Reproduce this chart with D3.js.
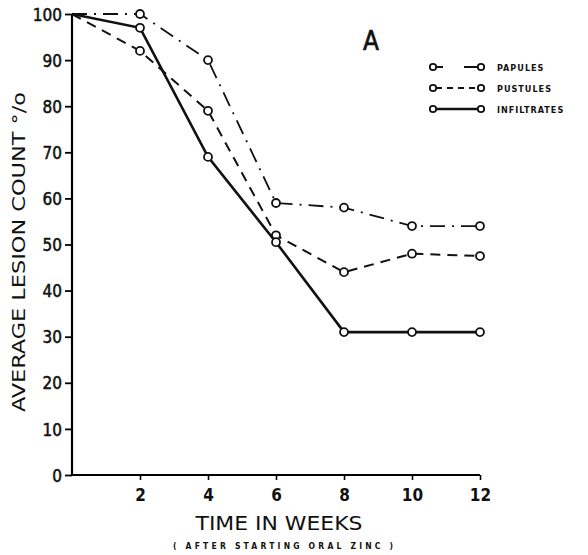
<!DOCTYPE html>
<html><head><meta charset="utf-8">
<script src="https://cdn.jsdelivr.net/npm/d3@7"></script>
<style>body{margin:0;background:#fff}svg{display:block}text{fill:#111}</style>
</head><body>
<svg id="c" width="588" height="555"></svg>
<script>
const weeks = [0, 2, 4, 6, 8, 10, 12];
const papules = [100, 100, 90, 59, 58, 54, 54];
const pustules = [100, 92, 79, 52, 44, 48, 47.5];
const infiltrates = [100, 97, 69, 50.5, 31, 31, 31];
const seriesNames = ["PAPULES", "PUSTULES", "INFILTRATES"];
const xTicks = [2, 4, 6, 8, 10, 12];
const yTicks = [0, 10, 20, 30, 40, 50, 60, 70, 80, 90, 100];

const svg = d3.select("#c");
const x = d3.scaleLinear().domain([0, 12]).range([72, 480]);
const y = d3.scaleLinear().domain([0, 100]).range([475, 14]);
const font = "'DejaVu Sans Condensed', 'DejaVu Sans', sans-serif";

const styles = [
  {dash: "15,7,2,7", w: 1.8},
  {dash: "10,7", w: 2},
  {dash: null, w: 2.6}
];
const legendDash = ["7,21,15", "6,5", null];
const data = [papules, pustules, infiltrates];

// axes
const yAxis = d3.axisLeft(y).tickValues(yTicks).tickSize(7).tickPadding(3);
const gy = svg.append("g").attr("transform", "translate(72,0)").call(yAxis);
gy.select(".domain").attr("stroke-width", 2.2).attr("d", "M0,14V475");
gy.selectAll(".tick line").attr("stroke-width", 1.8);
gy.selectAll(".tick text").attr("font-family", font).attr("font-size", 17).attr("dy", "0.36em")
  .attr("stroke", "#111").attr("stroke-width", 0.5);

const xAxis = d3.axisBottom(x).tickValues(xTicks).tickSize(5).tickPadding(9);
const gx = svg.append("g").attr("transform", "translate(0,475)").call(xAxis);
gx.select(".domain").attr("stroke-width", 2.2).attr("d", "M72,0H480");
gx.selectAll(".tick line").attr("stroke-width", 1.6);
gx.selectAll(".tick text").attr("font-family", font).attr("font-size", 17).attr("font-weight", "bold");

// lines
const line = d3.line().x((d, i) => x(weeks[i])).y(d => y(d));
data.forEach((vals, k) => {
  svg.append("path").datum(vals).attr("d", line)
    .attr("fill", "none").attr("stroke", "#111")
    .attr("stroke-width", styles[k].w)
    .attr("stroke-dasharray", styles[k].dash);
  svg.selectAll(null).data(vals.slice(1)).enter().append("circle")
    .attr("cx", (d, i) => x(weeks[i + 1])).attr("cy", d => y(d)).attr("r", 4)
    .attr("fill", "#fff").attr("stroke", "#111").attr("stroke-width", 1.8);
});

// legend
const legY = [67, 88, 109];
seriesNames.forEach((n, k) => {
  const g = svg.append("g");
  g.append("line").attr("x1", 436).attr("x2", 478).attr("y1", legY[k]).attr("y2", legY[k])
    .attr("stroke", "#111").attr("stroke-width", styles[k].w)
    .attr("stroke-dasharray", legendDash[k]);
  [433, 481].forEach(cx => g.append("circle").attr("cx", cx).attr("cy", legY[k]).attr("r", 3.2)
    .attr("fill", "#fff").attr("stroke", "#111").attr("stroke-width", 1.8));
  g.append("text").attr("x", 497).attr("y", legY[k] + 3.5).text(n)
    .attr("font-family", font).attr("font-size", 9).attr("font-weight", "bold").attr("letter-spacing", 1);
});

// panel label
svg.append("text").attr("x", 371).attr("y", 50).attr("text-anchor", "middle")
  .attr("font-family", font).attr("font-size", 26).attr("stroke", "#111").attr("stroke-width", 0.6).text("A");

// axis titles
svg.append("text").attr("x", 279).attr("y", 530).attr("text-anchor", "middle")
  .attr("font-family", font).attr("font-size", 20).attr("textLength", 167)
  .attr("lengthAdjust", "spacingAndGlyphs").text("TIME IN WEEKS");
svg.append("text").attr("x", 283).attr("y", 549).attr("text-anchor", "middle")
  .attr("font-family", font).attr("font-size", 8.5).attr("font-weight", "bold").attr("textLength", 220)
  .text("( AFTER STARTING ORAL ZINC )");
svg.append("text").attr("transform", "translate(25,252) rotate(-90)").attr("text-anchor", "middle")
  .attr("font-family", font).attr("font-size", 18).attr("textLength", 320)
  .attr("lengthAdjust", "spacingAndGlyphs").text("AVERAGE LESION COUNT °/o");
</script>
</body></html>
